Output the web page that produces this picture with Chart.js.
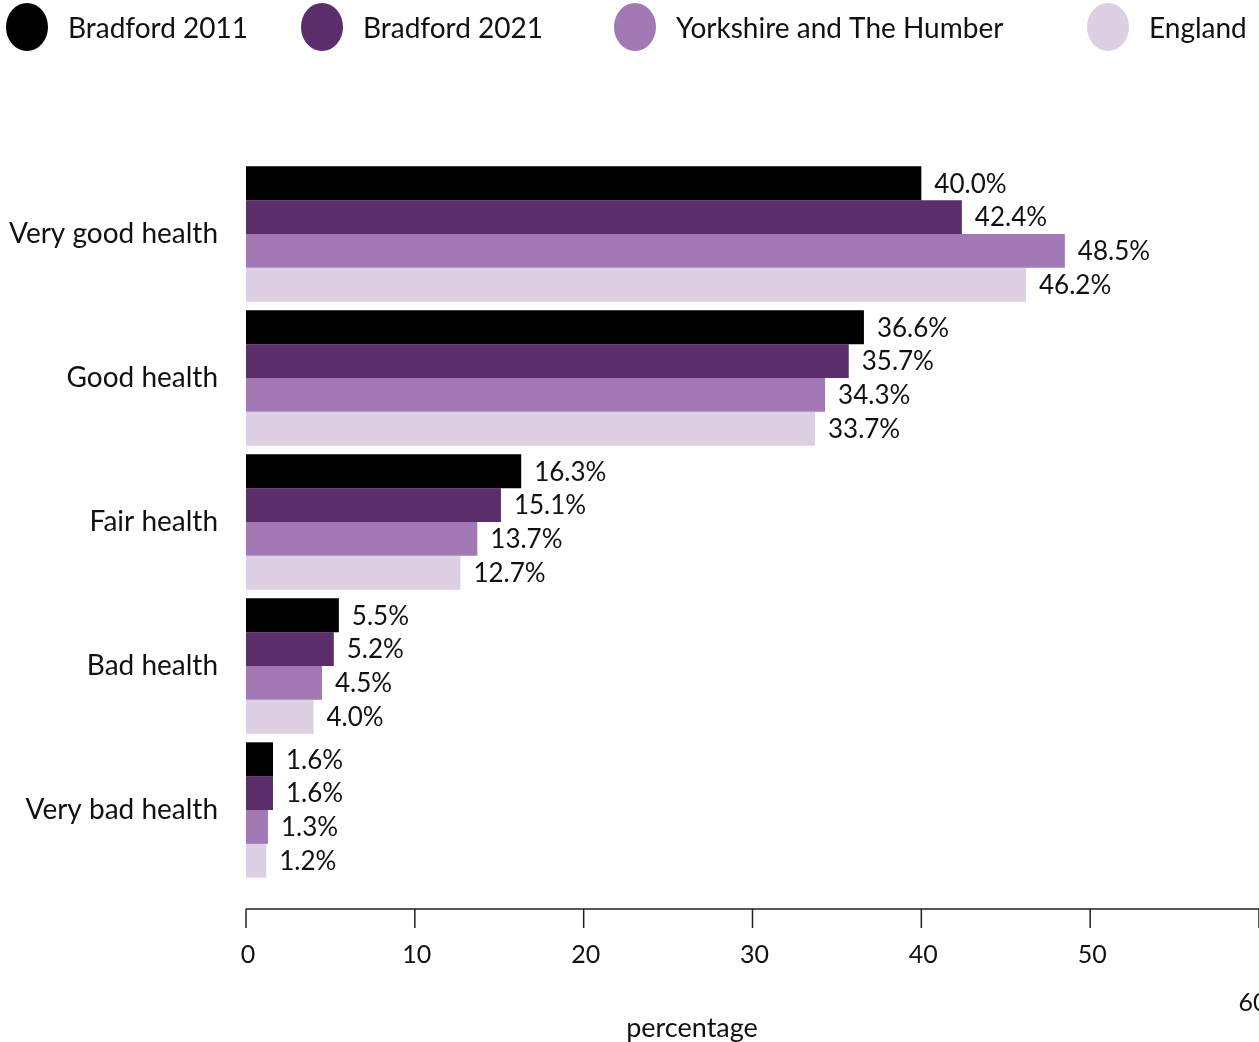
<!DOCTYPE html>
<html>
<head>
<meta charset="utf-8">
<script src="https://cdn.jsdelivr.net/npm/chart.js@4.4.0/dist/chart.umd.min.js"></script>
<style>
  html, body { margin: 0; padding: 0; background: #fff; }
  #wrap { width: 1259px; height: 1042px; }
</style>
</head>
<body>
<div id="wrap"><canvas id="healthChart" width="1259" height="1042"></canvas></div>
<script>
// ===== DADOS =====
const categorias = ['Very good health', 'Good health', 'Fair health', 'Bad health', 'Very bad health'];
const bradford2011 = [40.0, 36.6, 16.3, 5.5, 1.6];
const bradford2021 = [42.4, 35.7, 15.1, 5.2, 1.6];
const yorkshire = [48.5, 34.3, 13.7, 4.5, 1.3];
const england = [46.2, 33.7, 12.7, 4.0, 1.2];
const seriesNomes = ['Bradford 2011', 'Bradford 2021', 'Yorkshire and The Humber', 'England'];
const xTicks = [0, 10, 20, 30, 40, 50, 60];

const cores = ['#000000', '#5b2e6b', '#a278b5', '#ddd0e5'];
const FONTE = 'Lato';
const TEXTO = '#111';

// ===== LEGENDA (círculos no topo) =====
const legendaTopo = {
  id: 'legendaTopo',
  afterDraw(chart) {
    const ctx = chart.ctx;
    const posX = [27, 322, 635, 1108];
    ctx.save();
    ctx.font = `28px ${FONTE}`;
    ctx.textBaseline = 'middle';
    ctx.textAlign = 'left';
    chart.data.datasets.forEach((ds, i) => {
      ctx.fillStyle = ds.backgroundColor;
      ctx.beginPath();
      ctx.ellipse(posX[i], 27, 21, 24, 0, 0, Math.PI * 2);
      ctx.fill();
      ctx.fillStyle = TEXTO;
      ctx.fillText(ds.label, posX[i] + 41, 29);
    });
    ctx.restore();
  }
};

// ===== RÓTULOS DOS VALORES =====
const rotulosValores = {
  id: 'rotulosValores',
  afterDatasetsDraw(chart) {
    const ctx = chart.ctx;
    ctx.save();
    ctx.font = `26px ${FONTE}`;
    ctx.fillStyle = TEXTO;
    ctx.textBaseline = 'middle';
    ctx.textAlign = 'left';
    chart.data.datasets.forEach((ds, i) => {
      chart.getDatasetMeta(i).data.forEach((bar, j) => {
        ctx.fillText(ds.data[j].toFixed(1) + '%', bar.x + 13, bar.y + 1);
      });
    });
    ctx.restore();
  }
};

// ===== EIXO X (afastado das barras) =====
const eixoX = {
  id: 'eixoX',
  afterDraw(chart) {
    const ctx = chart.ctx;
    const xs = chart.scales.x;
    const y0 = chart.chartArea.bottom + 27;
    ctx.save();
    ctx.strokeStyle = '#222';
    ctx.lineWidth = 1.5;
    ctx.beginPath();
    ctx.moveTo(xs.getPixelForValue(xTicks[0]), y0);
    ctx.lineTo(xs.getPixelForValue(xTicks[xTicks.length - 1]), y0);
    xTicks.forEach(t => {
      const px = xs.getPixelForValue(t);
      ctx.moveTo(px, y0);
      ctx.lineTo(px, y0 + 19);
    });
    ctx.stroke();

    ctx.font = `25px ${FONTE}`;
    ctx.fillStyle = TEXTO;
    ctx.textAlign = 'center';
    ctx.textBaseline = 'middle';
    xTicks.forEach((t, i) => {
      const px = xs.getPixelForValue(t);
      const ultimo = i === xTicks.length - 1;
      ctx.fillText(String(t), px + (ultimo ? -6 : 2), y0 + (ultimo ? 94 : 46));
    });

    ctx.font = `27px ${FONTE}`;
    ctx.fillText('percentage', 692, 1028);
    ctx.restore();
  }
};

// ===== GRÁFICO =====
const ctx = document.getElementById('healthChart').getContext('2d');
const grafico = new Chart(ctx, {
  type: 'bar',
  data: {
    labels: categorias,
    datasets: [bradford2011, bradford2021, yorkshire, england].map((d, i) => ({
      label: seriesNomes[i],
      data: d,
      backgroundColor: cores[i],
      borderWidth: 0,
      categoryPercentage: 0.94,
      barPercentage: 1.0
    }))
  },
  options: {
    indexAxis: 'y',
    responsive: false,
    animation: false,
    layout: { padding: { top: 162, bottom: 160, left: 0, right: 0 } },
    plugins: {
      legend: { display: false },
      tooltip: { enabled: false }
    },
    scales: {
      x: {
        type: 'linear',
        min: 0,
        max: 60,
        display: false
      },
      y: {
        grid: { display: false, drawTicks: false },
        border: { display: false },
        ticks: {
          color: TEXTO,
          padding: 28,
          font: { family: FONTE, size: 28 }
        },
        afterFit: s => { s.width = 246; }
      }
    }
  },
  plugins: [legendaTopo, rotulosValores, eixoX]
});
</script>
</body>
</html>
